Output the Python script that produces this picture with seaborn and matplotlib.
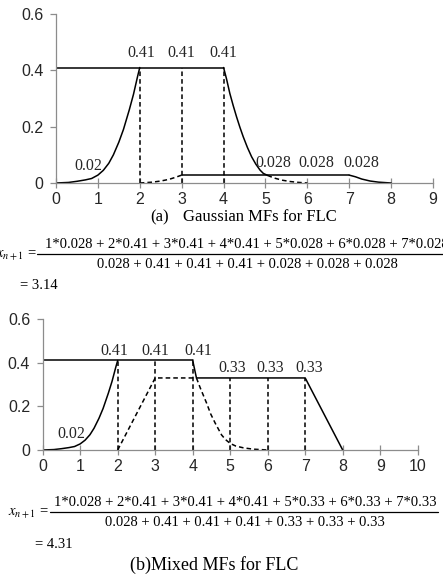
import matplotlib.pyplot as plt
import seaborn as sns
from matplotlib.lines import Line2D

# rising left membership curve (same in both panels)
rise_x = [0, 0.3, 0.5, 0.7, 0.85, 1.0, 1.13, 1.26, 1.37, 1.5, 1.61, 1.75, 1.85, 1.95, 2.0]
rise_y = [0, 0.002, 0.006, 0.011, 0.016, 0.028, 0.045, 0.07, 0.1, 0.145, 0.19, 0.26, 0.315, 0.38, 0.41]

# (a) Gaussian MFs
a_top_x = [0, 4]
a_top_y = [0.41, 0.41]
a_fall_x = [4.0, 4.07, 4.15, 4.23, 4.31, 4.39, 4.47, 4.57, 4.67, 4.77, 4.87, 4.95, 5.05]
a_fall_y = [0.41, 0.37, 0.318, 0.275, 0.235, 0.198, 0.164, 0.126, 0.093, 0.067, 0.046, 0.034, 0.027]
a_fall_dash_x = [5.05, 5.2, 5.4, 5.6, 5.8, 6.0]
a_fall_dash_y = [0.027, 0.018, 0.01, 0.005, 0.002, 0.0]
a_rise_dash_x = [2.0, 2.3, 2.5, 2.7, 2.85, 3.0]
a_rise_dash_y = [0.0, 0.003, 0.007, 0.013, 0.02, 0.028]
a_low_x = [3, 7]
a_low_y = [0.028, 0.028]
a_tail_x = [7.0, 7.15, 7.3, 7.5, 7.7, 8.0]
a_tail_y = [0.028, 0.022, 0.014, 0.007, 0.003, 0.0]
a_drop_x = [2, 3, 4]
a_drop_y = [0.41, 0.41, 0.41]
a_lab_x = [1, 2, 3, 4, 5, 6, 7]
a_lab_y = [0.028, 0.41, 0.41, 0.41, 0.028, 0.028, 0.028]
a_lab = ['0.02', '0.41', '0.41', '0.41', '0.028', '0.028', '0.028']

# (b) Mixed MFs
b_top_x = [0, 4]
b_top_y = [0.41, 0.41]
b_step_x = [4.0, 4.1, 7.0, 8.0]
b_step_y = [0.41, 0.33, 0.33, 0.0]
b_tri_x = [2.0, 3.0, 4.1]
b_tri_y = [0.0, 0.33, 0.33]
b_fall_dash_x = [4.1, 4.2, 4.37, 4.48, 4.6, 4.77, 4.88, 5.0, 5.15, 5.35, 5.6, 6.0]
b_fall_dash_y = [0.33, 0.285, 0.215, 0.165, 0.123, 0.069, 0.047, 0.03, 0.018, 0.01, 0.004, 0.0]
b_drop_x = [2, 3, 4, 5, 6, 7]
b_drop_y = [0.41, 0.41, 0.41, 0.33, 0.33, 0.33]
b_lab_x = [1, 2, 3, 4, 5, 6, 7]
b_lab_y = [0.028, 0.41, 0.41, 0.41, 0.33, 0.33, 0.33]
b_lab = ['0.02', '0.41', '0.41', '0.41', '0.33', '0.33', '0.33']

a_num = '1*0.028 + 2*0.41 + 3*0.41 + 4*0.41 + 5*0.028 + 6*0.028 + 7*0.028'
a_den = '0.028 + 0.41 + 0.41 + 0.41 + 0.028 + 0.028 + 0.028'
a_res = '= 3.14'
b_num = '1*0.028 + 2*0.41 + 3*0.41 + 4*0.41 + 5*0.33 + 6*0.33 + 7*0.33'
b_den = '0.028 + 0.41 + 0.41 + 0.41 + 0.33 + 0.33 + 0.33'
b_res = '= 4.31'

sns.set_style('white')
plt.rcParams['font.family'] = ['Liberation Sans', 'DejaVu Sans']
plt.rcParams['mathtext.fontset'] = 'stix'

W, H = 443, 587
fig = plt.figure(figsize=(W / 100, H / 100), dpi=100)


def fx(x):
    return x / W


def fy(y):
    return 1 - y / H


SOLID = dict(color='black', lw=1.1, estimator=None, sort=False)
DASH = dict(color='black', lw=1.1, estimator=None, sort=False, linestyle=(0, (3, 2)))


def style_axes(ax, xmax):
    ax.set_xlim(0, xmax)
    ax.set_ylim(0, 0.6)
    ax.set_xticks(range(0, xmax + 1))
    ax.set_yticks([0, 0.2, 0.4, 0.6])
    ax.set_yticklabels(['0', '0.2', '0.4', '0.6'])
    for s in ['top', 'right']:
        ax.spines[s].set_visible(False)
    for s in ['left', 'bottom']:
        ax.spines[s].set_color('#8c8c8c')
        ax.spines[s].set_linewidth(0.9)
    ax.tick_params(axis='x', direction='inout', length=7, width=0.9, color='#8c8c8c',
                   pad=3, labelsize=11.5, bottom=True)
    ax.tick_params(axis='y', direction='out', length=4, width=0.9, color='#8c8c8c',
                   pad=5, labelsize=11.5, left=True)
    ax.set_xlabel('')
    ax.set_ylabel('')


def labels(ax, xs, ys, texts, offs):
    for x, y, t, (dx, dy) in zip(xs, ys, texts, offs):
        ax.annotate(t, (x, y), xytext=(dx, dy), textcoords='offset pixels',
                    ha='center', va='center', family='Liberation Serif', fontsize=11.5)


# ---- panel (a)
ax1 = fig.add_axes([fx(56), fy(183), (433 - 56) / W, 169 / H])
sns.lineplot(x=rise_x, y=rise_y, ax=ax1, **SOLID)
sns.lineplot(x=a_top_x, y=a_top_y, ax=ax1, **SOLID)
sns.lineplot(x=a_fall_x, y=a_fall_y, ax=ax1, **SOLID)
sns.lineplot(x=a_low_x, y=a_low_y, ax=ax1, **SOLID)
sns.lineplot(x=a_tail_x, y=a_tail_y, ax=ax1, **SOLID)
sns.lineplot(x=a_fall_dash_x, y=a_fall_dash_y, ax=ax1, **DASH)
sns.lineplot(x=a_rise_dash_x, y=a_rise_dash_y, ax=ax1, **DASH)
ax1.vlines(a_drop_x, 0, a_drop_y, colors='black', lw=1.1, linestyles=[(0, (3, 2))])
labels(ax1, a_lab_x, a_lab_y, a_lab,
       [(-10, 9), (2, 15), (0, 15), (0, 15), (8, 12), (9, 12), (12, 12)])
style_axes(ax1, 9)

# ---- panel (b)
ax2 = fig.add_axes([fx(42.7), fy(450), 375 / W, 131 / H])
sns.lineplot(x=rise_x, y=rise_y, ax=ax2, **SOLID)
sns.lineplot(x=b_top_x, y=b_top_y, ax=ax2, **SOLID)
sns.lineplot(x=b_step_x, y=b_step_y, ax=ax2, **SOLID)
sns.lineplot(x=b_tri_x, y=b_tri_y, ax=ax2, **DASH)
sns.lineplot(x=b_fall_dash_x, y=b_fall_dash_y, ax=ax2, **DASH)
ax2.vlines(b_drop_x, 0, b_drop_y, colors='black', lw=1.1, linestyles=[(0, (3, 2))])
labels(ax2, b_lab_x, b_lab_y, b_lab,
       [(-9, 10), (-3, 9), (0, 9), (6, 9), (2, 10), (2, 10), (4, 10)])
style_axes(ax2, 10)

# ---- captions and formulas
SERIF = dict(family='Liberation Serif', color='black')


def formula(xl, xc, y, x0, x1, num, den, res, xr, yr, fs):
    fig.text(fx(xl), fy(y + 2), r'$x_{n+1}$ =', ha='right', va='center', fontsize=fs, **SERIF)
    fig.text(fx(xc), fy(y - 9), num, ha='center', va='center', fontsize=fs, **SERIF)
    fig.text(fx(xc), fy(y + 10), den, ha='center', va='center', fontsize=fs, **SERIF)
    fig.add_artist(Line2D([fx(x0), fx(x1)], [fy(y), fy(y)], transform=fig.transFigure,
                          color='black', lw=0.9))
    fig.text(fx(xr), fy(yr), res, ha='left', va='center', fontsize=fs, **SERIF)


fig.text(fx(160), fy(217), '(a)', ha='center', va='center', fontsize=12, **SERIF)
fig.text(fx(260), fy(217), 'Gaussian MFs for FLC', ha='center', va='center', fontsize=12, **SERIF)
formula(37, 247, 254, 37, 460, a_num, a_den, a_res, 20, 286, 10.5)
formula(49, 245, 512, 50, 438, b_num, b_den, b_res, 35, 545, 10.5)
fig.text(fx(214), fy(565), '(b)Mixed MFs for FLC', ha='center', va='center', fontsize=13, **SERIF)

fig.savefig('out.png', dpi=100)
